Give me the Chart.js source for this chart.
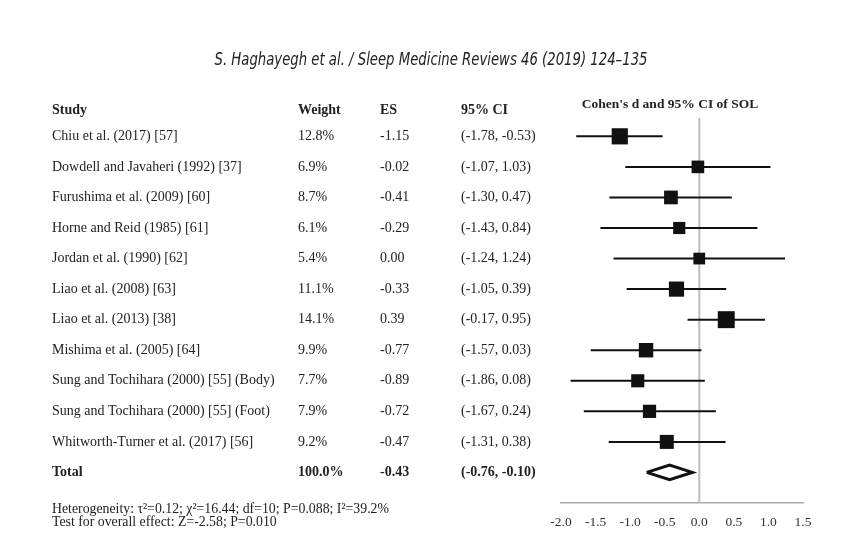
<!DOCTYPE html>
<html>
<head>
<meta charset="utf-8">
<script src="https://cdn.jsdelivr.net/npm/chart.js@4.4.1/dist/chart.umd.min.js"></script>
<style>
  body { margin: 0; background: #fff; }
  #forest { display: block; }
</style>
</head>
<body>
<canvas id="forest" width="856" height="547"></canvas>
<script>
// 연구 목록과 값들
const studies = [
  'Chiu et al. (2017) [57]',
  'Dowdell and Javaheri (1992) [37]',
  'Furushima et al. (2009) [60]',
  'Horne and Reid (1985) [61]',
  'Jordan et al. (1990) [62]',
  'Liao et al. (2008) [63]',
  'Liao et al. (2013) [38]',
  'Mishima et al. (2005) [64]',
  'Sung and Tochihara (2000) [55] (Body)',
  'Sung and Tochihara (2000) [55] (Foot)',
  'Whitworth-Turner et al. (2017) [56]'
];
const weights = [12.8, 6.9, 8.7, 6.1, 5.4, 11.1, 14.1, 9.9, 7.7, 7.9, 9.2];
const effects = [-1.15, -0.02, -0.41, -0.29, 0.00, -0.33, 0.39, -0.77, -0.89, -0.72, -0.47];
const ciLow  = [-1.78, -1.07, -1.30, -1.43, -1.24, -1.05, -0.17, -1.57, -1.86, -1.67, -1.31];
const ciHigh = [-0.53, 1.03, 0.47, 0.84, 1.24, 0.39, 0.95, 0.03, 0.08, 0.24, 0.38];

const totalWeight = 100.0;
const totalEffect = -0.43;
const totalLow = -0.76;
const totalHigh = -0.10;

const xTicks = [-2.0, -1.5, -1.0, -0.5, 0.0, 0.5, 1.0, 1.5];

const pageTitle = 'S. Haghayegh et al. / Sleep Medicine Reviews 46 (2019) 124\u2013135';
const plotTitle = "Cohen's d and 95% CI of SOL";
const footLines = [
  'Heterogeneity: \u03c4\u00b2=0.12; \u03c7\u00b2=16.44; df=10; P=0.088; I\u00b2=39.2%',
  'Test for overall effect: Z=-2.58; P=0.010'
];

const serif = "'Liberation Serif', 'Times New Roman', serif";
const yMin = -0.6, yMax = 12;
const totalRow = studies.length;

// 숫자 표시 형식
function fmt(v) { return v.toFixed(2); }

// 신뢰구간 선 데이터셋
const ciSets = studies.map(function (s, i) {
  return {
    type: 'line',
    data: [{ x: ciLow[i], y: i }, { x: ciHigh[i], y: i }],
    borderColor: '#111',
    borderWidth: 2,
    pointRadius: 0,
    order: 2
  };
});

// 표 텍스트 그리는 플러그인
const tableText = {
  id: 'tableText',
  afterDraw(chart) {
    const ctx = chart.ctx;
    const ys = chart.scales.y;
    const xs = chart.scales.x;
    ctx.save();
    ctx.fillStyle = '#222';
    ctx.textBaseline = 'middle';

    // 저널 머리글 (좁은 글꼴처럼 가로로 눌러서)
    ctx.font = "italic 18px 'DejaVu Sans Condensed', 'Liberation Sans Narrow', sans-serif";
    ctx.textAlign = 'center';
    const tw = ctx.measureText(pageTitle).width;
    ctx.save();
    ctx.translate(431, 60);
    ctx.scale(433 / tw, 1);
    ctx.fillText(pageTitle, 0, 0);
    ctx.restore();

    ctx.font = 'bold 13.5px ' + serif;
    ctx.fillText(plotTitle, (xs.left + xs.right) / 2 - 12, 105);

    ctx.textAlign = 'left';
    ctx.font = 'bold 14px ' + serif;
    ctx.fillText('Study', 52, 110);
    ctx.fillText('Weight', 298, 110);
    ctx.fillText('ES', 380, 110);
    ctx.fillText('95% CI', 461, 110);

    ctx.font = '14px ' + serif;
    studies.forEach(function (s, i) {
      const y = ys.getPixelForValue(i);
      ctx.fillText(s, 52, y);
      ctx.fillText(weights[i].toFixed(1) + '%', 298, y);
      ctx.fillText(fmt(effects[i]), 380, y);
      ctx.fillText('(' + fmt(ciLow[i]) + ', ' + fmt(ciHigh[i]) + ')', 461, y);
    });

    const ty = ys.getPixelForValue(totalRow);
    ctx.font = 'bold 14px ' + serif;
    ctx.fillText('Total', 52, ty);
    ctx.fillText(totalWeight.toFixed(1) + '%', 298, ty);
    ctx.fillText(fmt(totalEffect), 380, ty);
    ctx.fillText('(' + fmt(totalLow) + ', ' + fmt(totalHigh) + ')', 461, ty);

    ctx.font = '13.8px ' + serif;
    ctx.fillText(footLines[0], 52, 509);
    ctx.fillText(footLines[1], 52, 522);
    ctx.restore();
  }
};

new Chart(document.getElementById('forest'), {
  data: {
    datasets: [{
      // 0 기준선
      type: 'line',
      data: [{ x: 0, y: yMin }, { x: 0, y: yMax }],
      borderColor: '#bdbdbd',
      borderWidth: 2,
      pointRadius: 0,
      order: 3
    }].concat(ciSets).concat([{
      // 효과 크기 사각형
      type: 'scatter',
      data: effects.map(function (e, i) { return { x: e, y: i }; }),
      pointStyle: 'rect',
      pointRadius: weights.map(function (w) { return (8.5 + 0.6 * w) / Math.SQRT2; }),
      backgroundColor: '#111',
      borderColor: '#111',
      borderWidth: 0,
      order: 1
    }, {
      // 전체 효과 다이아몬드
      type: 'line',
      data: [
        { x: totalLow, y: totalRow },
        { x: totalEffect, y: totalRow - 0.24 },
        { x: totalHigh, y: totalRow },
        { x: totalEffect, y: totalRow + 0.24 },
        { x: totalLow, y: totalRow }
      ],
      borderColor: '#111',
      borderWidth: 3,
      borderJoinStyle: 'miter',
      pointRadius: 0,
      order: 1
    }])
  },
  options: {
    responsive: false,
    animation: false,
    layout: { padding: { left: 561, right: 53, top: 118, bottom: 0 } },
    plugins: { legend: { display: false }, tooltip: { enabled: false } },
    scales: {
      x: {
        type: 'linear',
        min: xTicks[0],
        max: xTicks[xTicks.length - 1],
        afterBuildTicks(scale) { scale.ticks = xTicks.map(function (v) { return { value: v }; }); },
        afterFit(scale) { scale.height = 44; },
        grid: { display: false, drawTicks: false },
        border: { display: true, color: '#aaa', width: 1.5 },
        ticks: {
          padding: 11,
          color: '#333',
          font: { family: serif, size: 13.5 },
          callback: function (v) { return v.toFixed(1); }
        }
      },
      y: {
        type: 'linear',
        display: false,
        reverse: true,
        min: yMin,
        max: yMax
      }
    }
  },
  plugins: [tableText]
});
</script>
</body>
</html>
